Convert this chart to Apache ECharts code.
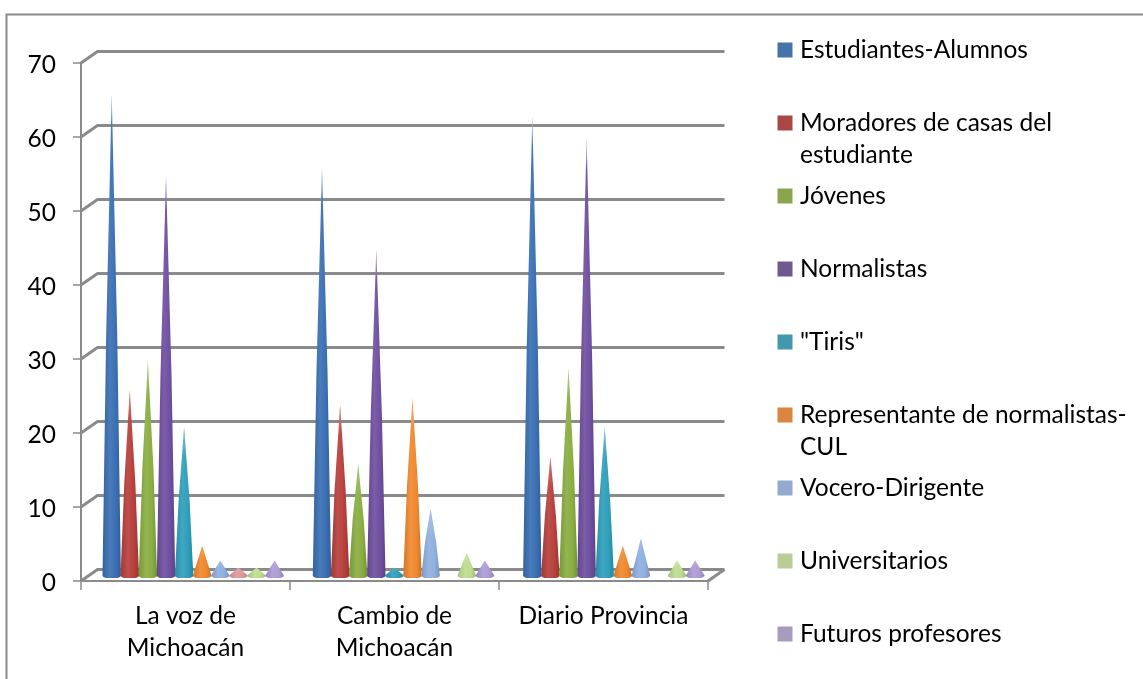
<!DOCTYPE html>
<html>
<head>
<meta charset="utf-8">
<style>html,body{margin:0;padding:0;background:#fff}#c{width:1143px;height:679px}</style>
<script src="https://cdn.jsdelivr.net/npm/echarts@6/dist/echarts.min.js"></script>
</head>
<body>
<div id="c"></div>
<script>
const categories = ['La voz de\nMichoacán', 'Cambio de\nMichoacán', 'Diario Provincia'];
const yTicks = [0, 10, 20, 30, 40, 50, 60, 70];
const estudiantes = [65, 55, 62];
const moradores = [25, 23, 16];
const jovenes = [29, 15, 28];
const normalistas = [54, 44, 59];
const tiris = [20, 1, 20];
const representante = [4, 24, 4];
const vocero = [2, 9, 5];
const sinNombre = [1, 0, 0];
const universitarios = [1, 3, 2];
const futuros = [2, 2, 2];

const seriesNames = ['Estudiantes-Alumnos', 'Moradores de casas del estudiante', 'Jóvenes', 'Normalistas', '"Tiris"', 'Representante de normalistas-CUL', 'Vocero-Dirigente', 'Otros', 'Universitarios', 'Futuros profesores'];
const seriesValues = [estudiantes, moradores, jovenes, normalistas, tiris, representante, vocero, sinNombre, universitarios, futuros];
const legendColors = ['#4572A7', '#AA4643', '#89A54E', '#71588F', '#4198AF', '#DB843D', '#93A9CF', '#D99694', '#B9CD96', '#A99BBD'];
const coneColors = ['#3A70B4', '#B8403C', '#8AAE42', '#6F4FA0', '#2F9FBC', '#F0882E', '#8FB0E0', '#E0989A', '#BFDC8F', '#AE9BD6'];
const legendNames = seriesNames.filter(n => n !== 'Otros');
const legendLines = {
  'Moradores de casas del estudiante': 'Moradores de casas del\nestudiante',
  'Representante de normalistas-CUL': 'Representante de normalistas-\nCUL'
};

const FONT = 'Lato';
const GREY = '#8a8a8a';
const DEPTH_X = 16.5, DEPTH_Y = 11.5;

function mix(hex, target, t) {
  const p = s => [1, 3, 5].map(i => parseInt(s.substr(i, 2), 16));
  const a = p(hex), b = p(target);
  return 'rgb(' + a.map((v, i) => Math.round(v + (b[i] - v) * t)).join(',') + ')';
}

function renderFrame(params, api) {
  const band = api.size([1, 0])[0];
  const c = api.coord([0, api.value(1)]);
  const x0 = c[0] - band / 2, y = c[1];
  const w = band * categories.length;
  const style = { stroke: GREY, lineWidth: 3, fill: null };
  const children = [{
    type: 'polyline',
    shape: { points: [[x0, y], [x0 + DEPTH_X, y - DEPTH_Y], [x0 + w + DEPTH_X, y - DEPTH_Y]] },
    style
  }];
  if (api.value(1) === 0) {
    children.push({
      type: 'line',
      shape: { x1: x0 + w, y1: y, x2: x0 + w + DEPTH_X, y2: y - DEPTH_Y },
      style
    });
  }
  return { type: 'group', children };
}

function coneRenderer(idx, color) {
  return function (params, api) {
    const v = api.value(1);
    if (!v) return null;
    const band = api.size([1, 0])[0];
    const slot = band * 0.0866;
    const cat = api.value(0);
    const c = api.coord([cat, v]);
    const b = api.coord([cat, 0]);
    const cx = c[0] + DEPTH_X / 2 - 0.6 + cat * 1.3 + (idx - 4.5) * slot;
    const top = c[1] - DEPTH_Y / 2;
    const base = b[1] - DEPTH_Y / 2;
    const h = base - top;
    const rx = 9.2, ry = 2.8, k = 0.5523;
    const bulge = h > 60 ? 0.7 : 0.5;
    const midY = base - h / 2;
    const body = 'M' + (cx - rx) + ' ' + base +
      ' Q' + (cx - rx * bulge) + ' ' + midY + ' ' + cx + ' ' + top +
      ' Q' + (cx + rx * bulge) + ' ' + midY + ' ' + (cx + rx) + ' ' + base +
      ' C' + (cx + rx) + ' ' + (base + ry) + ' ' + (cx + rx * k) + ' ' + (base + ry) + ' ' + cx + ' ' + (base + ry) +
      ' C' + (cx - rx * k) + ' ' + (base + ry) + ' ' + (cx - rx) + ' ' + (base + ry) + ' ' + (cx - rx) + ' ' + base + ' Z';
    const horiz = new echarts.graphic.LinearGradient(0, 0, 1, 0, [
      { offset: 0, color: mix(color, '#000000', 0.12) },
      { offset: 0.4, color: mix(color, '#ffffff', 0.08) },
      { offset: 0.72, color: color },
      { offset: 1, color: mix(color, '#000000', 0.16) }
    ]);
    const fadeEnd = Math.min(0.4, 30 / h);
    const alpha = Math.min(0.8, 0.1 + h / 600);
    const vert = new echarts.graphic.LinearGradient(0, 0, 0, 1, [
      { offset: 0, color: 'rgba(235,235,235,' + alpha + ')' },
      { offset: fadeEnd, color: 'rgba(255,255,255,0)' },
      { offset: 1, color: 'rgba(255,255,255,0)' }
    ]);
    return {
      type: 'group',
      children: [
        { type: 'path', shape: { pathData: body }, style: { fill: horiz } },
        { type: 'path', shape: { pathData: body }, style: { fill: vert } }
      ]
    };
  };
}

const chart = echarts.init(document.getElementById('c'), null, { renderer: 'canvas' });
chart.setOption({
  animation: false,
  backgroundColor: '#ffffff',
  textStyle: { fontFamily: FONT },
  graphic: [{
    type: 'rect',
    silent: true,
    shape: { x: 6.5, y: 14.5, width: 1200, height: 720 },
    style: { fill: null, stroke: GREY, lineWidth: 2 }
  }],
  grid: { left: 81, top: 63, width: 627, height: 518, containLabel: false },
  xAxis: {
    type: 'category',
    data: categories,
    axisLine: { show: true, onZero: false, lineStyle: { color: GREY, width: 2 } },
    axisTick: { show: true, length: 9, lineStyle: { color: GREY, width: 1.5 } },
    axisLabel: { color: '#000', fontSize: 24.5, fontFamily: FONT, margin: 19, lineHeight: 32, interval: 0, verticalAlign: 'top' },
    splitLine: { show: false }
  },
  yAxis: {
    type: 'value',
    min: 0,
    max: 70,
    interval: 10,
    axisLine: { show: true, lineStyle: { color: GREY, width: 2 } },
    axisTick: { show: true, length: 8, lineStyle: { color: GREY, width: 1.5 } },
    axisLabel: { color: '#000', fontSize: 24.5, fontFamily: FONT, margin: 25, verticalAlign: 'top', lineHeight: 4 },
    splitLine: { show: false }
  },
  legend: {
    orient: 'vertical',
    left: 777.5,
    top: 2,
    width: 365,
    height: 780,
    padding: 0,
    itemGap: -23,
    itemWidth: 20,
    itemHeight: 15,
    icon: 'path://M0,0H10V10H0Z',
    selectedMode: false,
    data: legendNames,
    formatter: n => legendLines[n] ? '\n' + legendLines[n] : '\n' + n + '\n ',
    textStyle: { color: '#000', fontSize: 24.5, fontFamily: FONT, lineHeight: 32 }
  },
  series: [
    {
      name: 'Marco',
      type: 'custom',
      z: 1,
      silent: true,
      clip: false,
      renderItem: renderFrame,
      data: yTicks.map(t => [0, t])
    }
  ].concat(seriesNames.map((name, i) => ({
    name,
    type: 'custom',
    z: 2 + i,
    clip: false,
    silent: true,
    itemStyle: { color: legendColors[i] },
    renderItem: coneRenderer(i, coneColors[i]),
    data: seriesValues[i].map((v, c) => [c, v])
  })))
});
</script>
</body>
</html>
